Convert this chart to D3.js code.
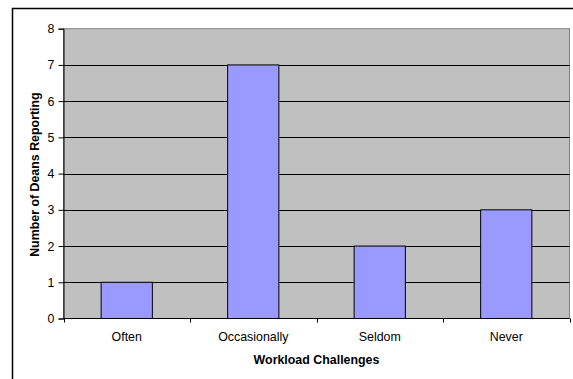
<!DOCTYPE html>
<html>
<head>
<meta charset="utf-8">
<script src="https://cdn.jsdelivr.net/npm/d3@7"></script>
<style>
  html, body { margin: 0; padding: 0; background: #fff; }
  svg { display: block; }
  text { font-family: "Liberation Sans", Arial, sans-serif; fill: #000; }
</style>
</head>
<body>
<svg id="chart" width="573" height="379"></svg>
<script>
// Survey responses: how often deans face workload challenges
const categories = ["Often", "Occasionally", "Seldom", "Never"];
const deanCounts = [1, 7, 2, 3];
const yTicks = [0, 1, 2, 3, 4, 5, 6, 7, 8];
const xTitle = "Workload Challenges";
const yTitle = "Number of Deans Reporting";

const svg = d3.select("#chart");
const W = 573, H = 379;
const FONT = "12.4px";

// Frame around the chart (right and bottom edges run off the page)
svg.append("rect")
  .attr("x", 12.5).attr("y", 8.5)
  .attr("width", W).attr("height", H)
  .attr("fill", "#fff").attr("stroke", "#000").attr("stroke-width", 1.5);

const plot = { left: 63.5, right: 569.5, top: 28.7, bottom: 318.5 };

const x = d3.scaleBand()
  .domain(categories)
  .range([plot.left, plot.right])
  .padding(0);

const y = d3.scaleLinear()
  .domain([0, 8])
  .range([plot.bottom, plot.top]);

// Plot background
svg.append("rect")
  .attr("x", plot.left).attr("y", plot.top)
  .attr("width", plot.right - plot.left)
  .attr("height", plot.bottom - plot.top)
  .attr("fill", "#C0C0C0")
  .attr("stroke", "#808080").attr("stroke-width", 1);

// Horizontal gridlines
svg.append("g")
  .selectAll("line")
  .data(yTicks.filter(d => d > 0 && d < 8))
  .join("line")
  .attr("x1", plot.left).attr("x2", plot.right)
  .attr("y1", d => Math.round(y(d)) + 0.5)
  .attr("y2", d => Math.round(y(d)) + 0.5)
  .attr("stroke", "#000").attr("stroke-width", 1);

// Bars
const barW = x.bandwidth() * 0.405;
svg.append("g")
  .selectAll("rect")
  .data(categories.map((c, i) => ({ c, v: deanCounts[i] })))
  .join("rect")
  .attr("x", d => x(d.c) + (x.bandwidth() - barW) / 2)
  .attr("y", d => y(d.v))
  .attr("width", barW)
  .attr("height", d => y(0) - y(d.v))
  .attr("fill", "#9999FF")
  .attr("stroke", "#000").attr("stroke-width", 1);

// Y axis
const yAxis = svg.append("g")
  .attr("transform", `translate(${plot.left},0)`)
  .call(d3.axisLeft(y).tickValues(yTicks).tickSize(5).tickPadding(4).tickFormat(d3.format("d")));
yAxis.select(".domain").attr("stroke", "#000");
yAxis.selectAll(".tick line").attr("stroke", "#000");
yAxis.selectAll(".tick text").attr("font-size", FONT).attr("fill", "#000")
  .style("font-family", "'Liberation Sans', Arial, sans-serif");

// X axis: ticks at category boundaries
const xAxisG = svg.append("g");
xAxisG.append("line")
  .attr("x1", plot.left).attr("x2", plot.right)
  .attr("y1", plot.bottom).attr("y2", plot.bottom)
  .attr("stroke", "#000").attr("stroke-width", 1.2);
const bounds = categories.map(c => x(c)).concat([x(categories[categories.length - 1]) + x.bandwidth()]);
xAxisG.selectAll("line.tick")
  .data(bounds)
  .join("line")
  .attr("class", "tick")
  .attr("x1", d => Math.round(d) + 0.5).attr("x2", d => Math.round(d) + 0.5)
  .attr("y1", plot.bottom).attr("y2", plot.bottom + 4)
  .attr("stroke", "#000");
xAxisG.selectAll("text")
  .data(categories)
  .join("text")
  .attr("x", d => x(d) + x.bandwidth() / 2)
  .attr("y", 340.5)
  .attr("text-anchor", "middle")
  .attr("font-size", FONT)
  .text(d => d);

// Axis titles
svg.append("text")
  .attr("x", (plot.left + plot.right) / 2)
  .attr("y", 364)
  .attr("text-anchor", "middle")
  .attr("font-size", FONT)
  .attr("font-weight", "bold")
  .text(xTitle);

svg.append("text")
  .attr("transform", `translate(39,${(plot.top + plot.bottom) / 2 + 1}) rotate(-90)`)
  .attr("text-anchor", "middle")
  .attr("font-size", FONT)
  .attr("font-weight", "bold")
  .text(yTitle);
</script>
</body>
</html>
